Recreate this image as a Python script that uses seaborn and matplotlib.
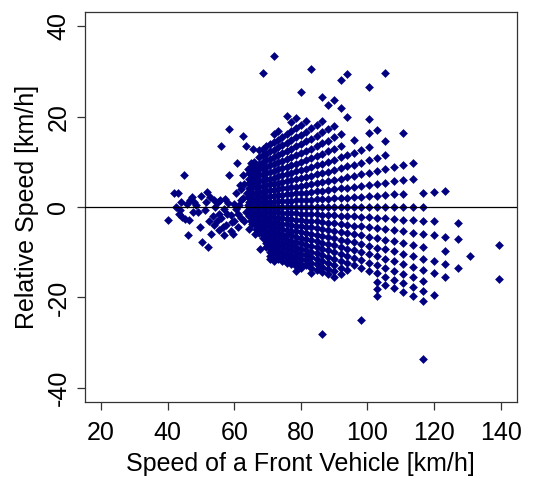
import matplotlib
matplotlib.use("Agg")
import matplotlib.pyplot as plt
import seaborn as sns
import pandas as pd

# speed of the front vehicle for each measured column [km/h]
front_cols = [139.35, 130.91, 127.06, 123.43, 120.00, 116.76, 113.68, 110.77,
              108.00, 105.37, 102.86, 100.47, 98.18, 96.00, 93.91, 91.91,
              90.00, 88.16, 86.40, 84.71, 83.08, 81.51, 80.00, 78.55, 77.14,
              75.79, 74.48, 73.22, 72.00, 70.82, 69.68, 68.57, 67.50, 66.46,
              65.45, 64.48]

# relative speed values found in each column [km/h]
rel_cols = [
    [-8.4, -15.9],
    [-10.9],
    [-3.6, -7.1, -13.4],
    [3.6, -6.7, -9.8, -12.7, -15.4],
    [3.4, -3.2, -6.3, -12.0, -14.6, -19.5],
    [3.2, 0.0, -3.1, -6.0, -8.8, -11.4, -13.9, -16.3, -18.6, -20.8, -33.7],
    [9.8, 6.3, 0.0, -2.9, -5.7, -8.3, -10.8, -13.2, -15.5, -17.7, -19.8],
    [16.3, 9.2, 6.0, 2.9, 0.0, -2.8, -5.4, -7.9, -10.3, -12.6, -14.8, -16.9, -18.9],
    [8.8, 5.7, 2.8, 0.0, -2.6, -5.1, -7.5, -9.8, -12.0, -14.1, -16.1, -18.0],
    [29.6, 14.6, 11.4, 8.3, 5.4, 2.6, 0.0, -2.5, -4.9, -7.2, -9.4, -11.5, -13.5, -15.4, -17.2],
    [17.1, 10.8, 7.9, 5.1, 2.5, 0.0, -2.4, -4.7, -6.9, -9.0, -10.9, -12.9, -14.7, -16.5, -18.2, -19.8],
    [26.6, 19.5, 16.3, 13.2, 10.3, 7.5, 4.9, 2.4, 0.0, -2.3, -4.5, -6.6, -8.6, -10.5, -12.3, -14.1],
    [12.6, 9.8, 7.2, 4.7, 2.3, 0.0, -2.2, -4.3, -6.3, -8.2, -10.0, -11.8, -13.5, -25.0],
    [14.8, 12.0, 9.4, 6.9, 4.5, 2.2, 0.0, -2.1, -4.1, -6.0, -7.8, -9.6, -11.3, -12.9],
    [29.5, 19.8, 11.5, 9.0, 6.6, 4.3, 2.1, 0.0, -2.0, -3.9, -5.8, -7.5, -9.2, -10.8, -12.4, -13.9],
    [28.1, 21.8, 16.1, 13.5, 11.0, 8.6, 6.3, 4.1, 2.0, 0.0, -1.9, -3.8, -5.5, -7.2, -8.8, -10.4, -11.9, -13.4, -14.8],
    [23.7, 18.0, 15.4, 12.9, 10.5, 8.2, 6.0, 3.9, 1.9, 0.0, -1.8, -3.6, -5.3, -6.9, -8.5, -10.0, -11.5, -12.9, -14.2, -15.5],
    [22.6, 17.2, 14.7, 12.3, 10.0, 7.8, 5.8, 3.8, 1.8, 0.0, -1.8, -3.5, -5.1, -6.7, -8.2, -9.6, -11.0, -12.4, -13.7, -14.9],
    [24.4, 19.0, 16.5, 14.1, 11.8, 9.6, 7.5, 5.5, 3.6, 1.8, 0.0, -1.7, -3.3, -4.9, -6.4, -7.9, -9.3, -10.6, -11.9, -13.2, -14.4, -28.0],
    [18.2, 15.8, 13.5, 11.3, 9.2, 7.2, 5.3, 3.5, 1.7, 0.0, -1.6, -3.2, -4.7, -6.2, -7.6, -8.9, -10.2, -11.5, -12.7, -13.9],
    [30.6, 17.4, 15.1, 12.9, 10.8, 8.8, 6.9, 5.1, 3.3, 1.6, 0.0, -1.6, -3.1, -4.5, -5.9, -7.3, -8.6, -9.9, -11.1, -12.3, -13.4, -14.5],
    [19.0, 16.7, 14.5, 12.4, 10.4, 8.5, 6.6, 4.8, 3.1, 1.6, 0.0, -1.5, -3.0, -4.4, -5.7, -7.0, -8.3, -9.5, -10.7, -11.8, -12.9],
    [25.4, 18.2, 16.0, 13.9, 11.9, 10.0, 8.2, 6.4, 4.7, 3.1, 1.5, 0.0, -1.5, -2.9, -4.2, -5.5, -6.8, -8.0, -9.2, -10.3, -11.4, -12.5, -13.5],
    [19.6, 17.5, 15.4, 13.4, 11.5, 9.6, 7.9, 6.2, 4.5, 3.0, 1.5, 0.0, -1.4, -2.8, -4.1, -5.4, -6.6, -7.7, -8.9, -10.0, -11.0, -12.1, -13.1, -14.1],
    [18.9, 16.8, 14.8, 12.9, 11.0, 9.3, 7.6, 5.9, 4.4, 2.9, 1.4, 0.0, -1.4, -2.7, -4.0, -5.2, -6.3, -7.5, -8.5, -9.6, -10.6, -11.6, -12.6],
    [20.2, 16.1, 14.2, 12.4, 10.6, 8.9, 7.3, 5.8, 4.3, 2.8, 1.4, 0.0, -1.3, -2.6, -3.8, -5.0, -6.1, -7.2, -8.2, -9.3, -10.3, -11.3, -12.3],
    [15.5, 13.7, 11.9, 10.2, 8.6, 7.0, 5.5, 4.1, 2.7, 1.3, 0.0, -1.3, -2.5, -3.7, -4.8, -5.9, -6.9, -7.9, -8.9, -9.9, -10.9, -11.9],
    [16.8, 14.9, 13.2, 11.5, 9.9, 8.3, 6.8, 5.3, 3.9, 2.6, 1.3, 0.0, -1.2, -2.4, -3.5, -4.6, -5.7, -6.7, -7.7, -8.7, -9.7, -10.6, -11.5],
    [33.4, 16.2, 14.4, 12.7, 11.1, 9.5, 8.0, 6.5, 5.1, 3.8, 2.5, 1.2, 0.0, -1.2, -2.3, -3.4, -4.5, -5.5, -6.5, -7.5, -8.5, -9.4, -10.3, -11.2, -12.0],
    [13.9, 12.3, 10.7, 9.2, 7.7, 6.3, 5.0, 3.7, 2.4, 1.2, 0.0, -1.1, -2.2, -3.3, -4.3, -5.3, -6.3, -7.3, -8.2, -9.1, -10.0, -10.8, -11.6],
    [13.4, 11.8, 10.3, 8.9, 7.5, 6.1, 4.8, 3.5, 2.3, 1.1, 0.0, -1.1, -2.2, -3.2, -4.2, -5.2, -6.1, -7.1, -8.0, -8.8],
    [29.6, 12.9, 11.4, 10.0, 8.6, 7.2, 5.9, 4.6, 3.4, 2.3, 1.1, 0.0, -1.1, -2.1, -3.1, -4.1, -5.0, -6.0, -6.9],
    [12.5, 11.1, 9.6, 8.3, 7.0, 5.7, 4.5, 3.3, 2.2, 1.1, 0.0, -1.0, -2.0, -3.0, -4.0, -4.9, -5.8],
    [9.3, 8.0, 6.8, 5.5, 4.4, 3.2, 2.1, 1.0, 0.0, -1.0, -2.0, -2.9, -3.9, -4.8],
    [9.0, 7.8, 6.5, 5.4, 4.2, 3.1, 2.0, 1.0, 0.0, -1.0, -1.9, -2.8, -3.7],
    [7.5, 6.3, 5.2, 4.1, 3.0, 2.0, 1.0, 0.0, -1.0, -1.9],
]

# scattered low-speed points (x < 68 km/h)
low_front = [40.0, 41.9, 43.1, 42.5, 43.7, 43.4, 44.3, 44.9, 45.3, 46.0,
             45.8, 46.8, 47.3, 47.6, 49.8, 50.1, 50.4, 51.1, 51.8, 52.0,
             52.3, 53.1, 52.8, 53.8, 54.3, 54.8, 55.3, 55.8, 56.1, 56.6,
             56.8, 57.3, 57.8, 58.4, 58.4, 58.9, 59.2, 59.9, 60.4, 60.9,
             61.1, 61.7, 61.9, 62.7, 62.5, 63.0, 63.6, 63.9, 64.2, 64.5,
             64.9, 65.7, 65.4, 65.9, 66.1, 67.6, 48.5, 49.2, 51.5, 53.5,
             54.0, 55.0, 56.0, 57.0, 58.0, 59.0, 60.0, 60.5, 61.5, 62.0,
             62.5, 63.5, 63.0, 64.0, 64.5, 65.0, 66.0, 62.0, 61.0, 59.5,
             57.5, 55.5, 44.0, 46.5, 48.0, 64.9]
low_rel = [-2.9, 3.1, 3.1, 0.0, -0.7, -1.5, -2.2, 7.0, -2.6, -6.3,
           0.6, 1.5, 2.2, -1.1, -4.4, 2.4, -7.7, -0.7, 3.3, -8.8,
           -3.0, -5.9, 2.2, 1.5, 0.0, -3.0, -1.5, 1.5, 13.5, -4.4,
           -6.3, 1.8, -1.5, 17.3, 7.0, -5.2, -3.3, 0.7, 3.0, 9.7,
           -1.5, 4.8, 1.5, 15.8, 7.0, -3.0, 13.5, 3.0, 8.4, -4.8,
           -3.0, 12.8, 5.5, 8.8, -5.9, -9.2, 0.5, -1.0, 1.2, -2.0,
           -4.0, 1.0, -2.5, -0.5, 0.8, -1.8, -3.0, -0.5, 0.5, -2.5,
           2.0, -1.0, 5.0, 0.5, 2.5, -1.5, 10.0, 4.0, -4.5, -6.0,
           -4.0, -5.0, 1.2, -2.8, 1.0, 9.8]

rows = []
for x, ys in zip(front_cols, rel_cols):
    for y in ys:
        rows.append((x, y))
for x, y in zip(low_front, low_rel):
    rows.append((x, y))
df = pd.DataFrame(rows, columns=["front", "relative"])

sns.set_style("ticks")
plt.rcParams["font.family"] = ["Liberation Sans", "DejaVu Sans"]
plt.rcParams["axes.unicode_minus"] = False
plt.rcParams["text.color"] = "black"
plt.rcParams["axes.labelcolor"] = "black"

fig = plt.figure(figsize=(5.52, 4.82), dpi=100)
ax = fig.add_axes([0.154, 0.1654, 0.782, 0.8103])

sns.scatterplot(data=df, x="front", y="relative", marker="D", color="#000080",
                s=20, linewidth=0, ax=ax, zorder=2)
ax.axhline(0, color="black", linewidth=0.9, zorder=3)

ax.set_xlim(15.2, 144.8)
ax.set_ylim(-43.2, 43.2)
ax.set_xticks([20, 40, 60, 80, 100, 120, 140])
ax.set_yticks([-40, -20, 0, 20, 40])
for lab in ax.get_yticklabels():
    lab.set_rotation(90)
    lab.set_va("center")

for sp in ax.spines.values():
    sp.set_visible(True)
    sp.set_color("#333333")
    sp.set_linewidth(0.9)

ax.tick_params(axis="both", direction="out", length=5.5, width=0.9,
               colors="#333333", labelcolor="black", labelsize=18)
ax.tick_params(axis="x", pad=8)
ax.tick_params(axis="y", pad=5)

ax.set_xlabel("Speed of a Front Vehicle [km/h]", fontsize=18, labelpad=5)
ax.set_ylabel("Relative Speed [km/h]", fontsize=18, labelpad=5)

fig.savefig("out.png", dpi=100)
